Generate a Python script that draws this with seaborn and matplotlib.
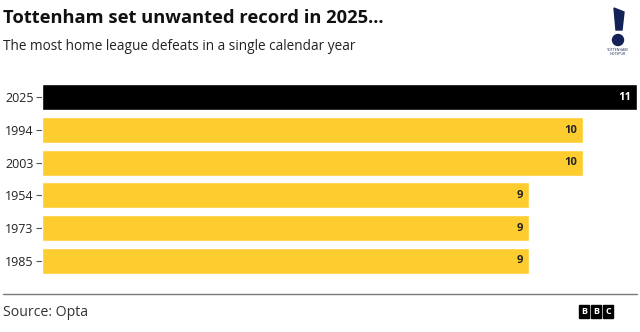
import matplotlib
matplotlib.use("Agg")
import matplotlib.pyplot as plt
import matplotlib.patches as mpatches
import pandas as pd
import seaborn as sns

# 数据
years = ['2025', '1994', '2003', '1954', '1973', '1985']
defeats = [11, 10, 10, 9, 9, 9]
highlight = ['2025']

sns.set_style('white')
plt.rcParams['font.family'] = ['Open Sans', 'DejaVu Sans']

df = pd.DataFrame({'year': years, 'defeats': defeats})
df['grp'] = ['hi' if y in highlight else 'lo' for y in df['year']]

W, H = 640, 332
fig = plt.figure(figsize=(6.4, 3.32), dpi=100)
ax = fig.add_axes([42 / W, 1 - 277 / H, (637 - 42) / W, (277 - 81) / H])

sns.barplot(data=df, x='defeats', y='year', hue='grp', order=years,
            palette={'hi': '#000000', 'lo': '#FDCD2F'}, width=0.8,
            dodge=False, legend=False, saturation=1, ax=ax)

ax.set_xlim(0, 11)
ax.set_ylim(5.5, -0.5)
ax.set_xlabel('')
ax.set_ylabel('')
ax.set_xticks([])
for s in ax.spines.values():
    s.set_visible(False)
ax.tick_params(axis='y', length=4, width=0.8, color='#555555', pad=2,
               labelsize=9, labelcolor='#222222', left=True)

# 数值标签
for i, (y, v) in enumerate(zip(years, defeats)):
    col = 'white' if y in highlight else '#222222'
    ax.text(v - 0.1, i, str(v), ha='right', va='center', fontsize=8,
            fontweight='bold', color=col)

# 标题
fig.text(3 / W, 1 - 18 / H, 'Tottenham set unwanted record in 2025...',
         fontsize=13.2, fontweight='bold', color='#111111', va='center')
fig.text(3 / W, 1 - 47 / H, 'The most home league defeats in a single calendar year',
         fontsize=9.8, color='#222222', va='center')

# 底部
fig.add_artist(plt.Line2D([3 / W, 637 / W], [1 - 294 / H, 1 - 294 / H],
                          color='#777777', lw=1))
fig.text(3 / W, 1 - 313 / H, 'Source: Opta', fontsize=10.2, color='#333333',
         va='center')
for k, ch in enumerate('BBC'):
    x0 = 579 + k * 12
    fig.add_artist(mpatches.Rectangle((x0 / W, 1 - 318 / H), 10 / W, 13 / H,
                                      color='black', transform=fig.transFigure))
    fig.text((x0 + 5) / W, 1 - 311.5 / H, ch, fontsize=6.5, fontweight='bold',
             color='white', ha='center', va='center')

# 简单的球队标志
fig.add_artist(mpatches.Ellipse((618 / W, 1 - 40 / H), 11 / W, 11 / H,
                                color='#132257', transform=fig.transFigure))
fig.add_artist(mpatches.Polygon([(614 / W, 1 - 8 / H), (624 / W, 1 - 12 / H),
                                 (622 / W, 1 - 30 / H), (616 / W, 1 - 30 / H)],
                                closed=True, color='#132257',
                                transform=fig.transFigure))
fig.text(618 / W, 1 - 52 / H, 'TOTTENHAM\nHOTSPUR', fontsize=2.5,
         color='#132257', ha='center', va='center', linespacing=1.0)

fig.savefig('out.png', dpi=100)
